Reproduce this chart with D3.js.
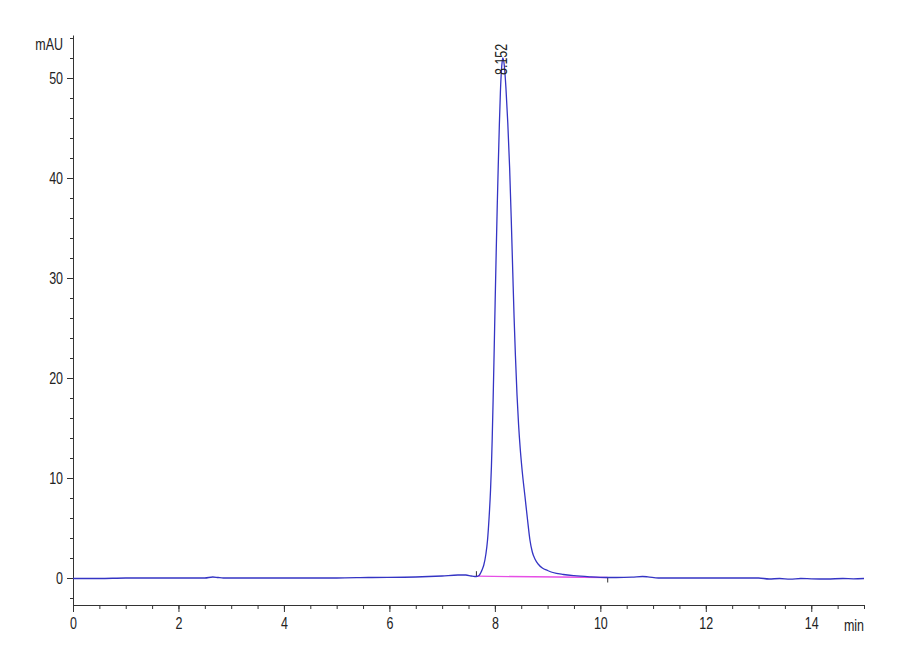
<!DOCTYPE html>
<html>
<head>
<meta charset="utf-8">
<script src="https://cdn.jsdelivr.net/npm/d3@7"></script>
<style>
  body { margin: 0; background: #fff; }
  text { font-family: "Liberation Sans", Arial, sans-serif; }
</style>
</head>
<body>
<div id="chart"></div>
<script>
// Chromatogram trace (retention time in min, absorbance in mAU)
const times = [
  0.0, 0.5, 1.0, 2.0, 2.5, 2.65, 2.75, 2.85, 4.0, 5.0, 5.6, 6.5, 7.0, 7.3, 7.45, 7.55, 7.62,
  7.65, 7.70, 7.73, 7.76, 7.79, 7.83, 7.861, 7.89, 7.918, 7.935, 7.95, 7.967, 7.985, 8.005, 8.025,
  8.045, 8.064, 8.085, 8.105, 8.125, 8.14, 8.152,
  8.18, 8.21, 8.245, 8.28, 8.31, 8.34, 8.365, 8.39, 8.42, 8.45, 8.48, 8.52, 8.57, 8.62, 8.665,
  8.71, 8.76, 8.82, 8.90, 9.0, 9.1, 9.3, 9.5, 9.8,
  10.0, 10.3, 10.6, 10.8, 10.9, 11.1, 12.0, 13.0, 13.2, 13.4, 13.6, 13.8, 14.0, 14.3, 14.6, 14.8, 15.0
];
const signal = [
  -0.05, -0.05, 0.0, 0.0, 0.0, 0.1, 0.05, 0.0, 0.0, 0.0, 0.05, 0.1, 0.2, 0.3, 0.3, 0.2, 0.15,
  0.15, 0.25, 0.5, 0.85, 1.3, 2.4, 3.8, 6.0, 8.8, 11.2, 14.0, 17.8, 22.3, 27.5, 32.5,
  37.2, 41.2, 45.3, 48.6, 50.8, 51.7, 52.0,
  51.2, 49.0, 45.5, 41.0, 36.0, 30.5, 26.0, 22.2, 18.3, 15.3, 13.0, 10.6, 8.2, 5.8, 3.8,
  2.6, 1.9, 1.4, 1.0, 0.75, 0.55, 0.35, 0.23, 0.12,
  0.07, 0.05, 0.08, 0.15, 0.12, 0.0, 0.0, 0.0, -0.1, -0.05, -0.12, -0.05, -0.08, -0.1, -0.05, -0.08, -0.05
];

// Integration baseline of the peak (start and end)
const baseTimes = [7.65, 10.14];
const baseValues = [0.18, 0.05];

// Peak annotation
const peakTime = 8.152;
const peakHeight = 52.0;
const peakLabel = '8.152';

// Axis ticks
const xMajor = [0, 2, 4, 6, 8, 10, 12, 14];
const xMinor = d3.range(0, 15.01, 0.5);
const yMajor = [0, 10, 20, 30, 40, 50];
const yMinor = d3.range(-2, 54.1, 2);

const width = 900, height = 660;
const margin = { top: 35, right: 36, bottom: 55, left: 73 };
const fontSize = '16px';
const squeeze = 0.78;   // the labels in the picture use a condensed face

const svg = d3.select('#chart').append('svg')
    .attr('width', width)
    .attr('height', height);

const x = d3.scaleLinear()
    .domain([0, 15])
    .range([margin.left, width - margin.right]);

const y = d3.scaleLinear()
    .domain([-2.7, 54.3])
    .range([height - margin.bottom, margin.top]);

const axisColor = '#333';

// Minor ticks first, major axes on top
svg.append('g')
    .attr('transform', `translate(0,${height - margin.bottom})`)
    .call(d3.axisBottom(x).tickValues(xMinor).tickSize(4).tickFormat(''))
    .call(g => g.select('.domain').remove())
    .selectAll('line').attr('stroke', axisColor);

svg.append('g')
    .attr('transform', `translate(${margin.left},0)`)
    .call(d3.axisLeft(y).tickValues(yMinor).tickSize(3).tickFormat(''))
    .call(g => g.select('.domain').remove())
    .selectAll('line').attr('stroke', axisColor);

const xAxis = svg.append('g')
    .attr('transform', `translate(0,${height - margin.bottom})`)
    .call(d3.axisBottom(x).tickValues(xMajor).tickSize(7).tickSizeOuter(0).tickPadding(6).tickFormat(d3.format('d')));

const yAxis = svg.append('g')
    .attr('transform', `translate(${margin.left},0)`)
    .call(d3.axisLeft(y).tickValues(yMajor).tickSize(6).tickSizeOuter(0).tickPadding(4).tickFormat(d3.format('d')));

[xAxis, yAxis].forEach(a => {
    a.select('.domain').attr('stroke', axisColor);
    a.selectAll('line').attr('stroke', axisColor);
    a.selectAll('text')
        .style('font-size', fontSize)
        .attr('fill', '#222')
        .attr('x', function() { return (+d3.select(this).attr('x') || 0) / squeeze; })
        .attr('transform', `scale(${squeeze},1)`);
});

// Unit labels
svg.append('text')
    .attr('transform', `translate(${margin.left - 10},50) scale(${squeeze},1)`)
    .attr('text-anchor', 'end')
    .style('font-size', fontSize)
    .attr('fill', '#222')
    .text('mAU');

svg.append('text')
    .attr('transform', `translate(${width - margin.right},631) scale(${squeeze},1)`)
    .attr('text-anchor', 'end')
    .style('font-size', fontSize)
    .attr('fill', '#222')
    .text('min');

// Integration baseline
const baseData = baseTimes.map((t, i) => ({ t, v: baseValues[i] }));
svg.append('path')
    .datum(baseData)
    .attr('fill', 'none')
    .attr('stroke', '#e64fe6')
    .attr('stroke-width', 1.3)
    .attr('d', d3.line().x(d => x(d.t)).y(d => y(d.v)));

// Integration event markers
svg.selectAll('.event')
    .data(baseData)
    .join('line')
    .attr('class', 'event')
    .attr('x1', d => x(d.t))
    .attr('x2', d => x(d.t))
    .attr('y1', (d, i) => i === 0 ? y(d.v) - 5 : y(d.v))
    .attr('y2', (d, i) => i === 0 ? y(d.v) : y(d.v) + 5)
    .attr('stroke', '#333')
    .attr('stroke-width', 1);

// Signal trace
const trace = times.map((t, i) => ({ t, v: signal[i] }));
svg.append('path')
    .datum(trace)
    .attr('fill', 'none')
    .attr('stroke', '#3434c4')
    .attr('stroke-width', 1.3)
    .attr('d', d3.line().curve(d3.curveMonotoneX).x(d => x(d.t)).y(d => y(d.v)));

// Retention time label
svg.append('text')
    .attr('transform', `translate(${x(peakTime) + 4},${y(peakHeight) + 17}) rotate(-90) scale(${squeeze},1)`)
    .attr('text-anchor', 'start')
    .style('font-size', fontSize)
    .attr('fill', '#222')
    .text(peakLabel);
</script>
</body>
</html>
